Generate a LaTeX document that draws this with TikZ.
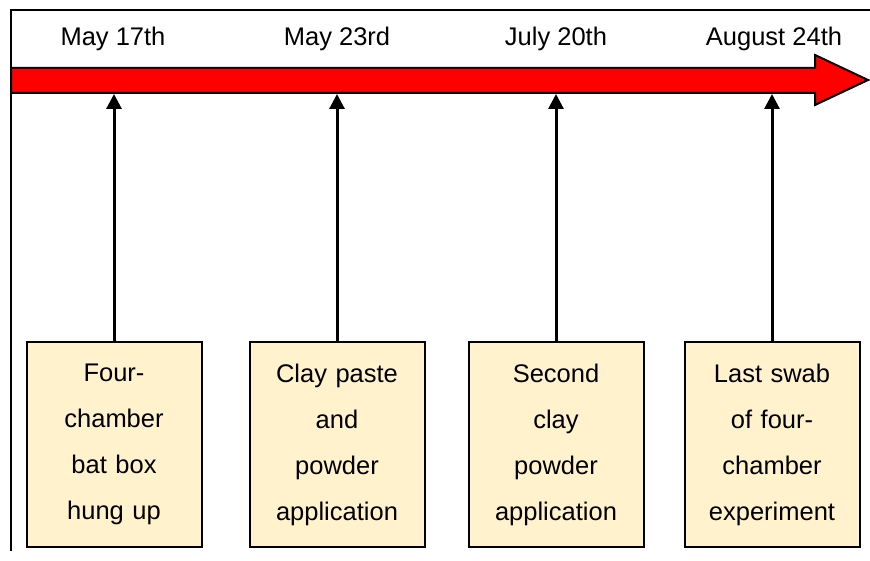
\documentclass[tikz,border=0pt]{standalone}
\usepackage{fontspec}
\setmainfont{Liberation Sans}
\usetikzlibrary{arrows.meta}
\definecolor{boxfill}{RGB}{255,242,204}
\newcommand{\boxpad}{\par\vspace*{6pt}}
\begin{document}
\begin{tikzpicture}[x=1pt,y=1pt,
  datelbl/.style={font=\fontsize{25.5}{30}\selectfont, anchor=center},
  eventbox/.style={draw=black, line width=2pt, fill=boxfill, minimum width=175pt, minimum height=205pt,
    text width=170pt, align=center, inner sep=0pt, font=\fontsize{25.5}{46}\selectfont},
  conn/.style={line width=3pt, -{Triangle[width=15pt,length=15pt]}},
  frame/.style={line width=2pt}]
\useasboundingbox (0,0) rectangle (870,-561);
% frame
\draw[frame] (11,-551) -- (11,-10) -- (871,-10);
% timeline arrow
\draw[line width=2pt, fill=red, line join=miter] (11,-68) -- (815,-68) -- (815,-55) -- (868,-80) -- (815,-105) -- (815,-93) -- (11,-93) -- cycle;
% dates
\node[datelbl] (d1) at (113,-39) {May 17th};
\node[datelbl] (d2) at (337,-39) {May 23rd};
\node[datelbl] (d3) at (556,-39) {July 20th};
\node[datelbl] (d4) at (774,-39) {August 24th};
% arrow attachment points
\coordinate (a1) at (114,-94);
\coordinate (a2) at (337,-94);
\coordinate (a3) at (556,-94);
\coordinate (a4) at (772,-94);
% boxes
\node[eventbox] (b1) at (114,-444.5) {Four-\\chamber\\bat box\\hung up\boxpad};
\node[eventbox] (b2) at (337,-444.5) {Clay paste\\and\\powder\\application\boxpad};
\node[eventbox] (b3) at (556,-444.5) {Second\\clay\\powder\\application\boxpad};
\node[eventbox] (b4) at (772,-444.5) {Last swab\\of four-\\chamber\\experiment\boxpad};
% connectors
\draw[conn] (b1.north) -- (a1);
\draw[conn] (b2.north) -- (a2);
\draw[conn] (b3.north) -- (a3);
\draw[conn] (b4.north) -- (a4);
\end{tikzpicture}
\end{document}
